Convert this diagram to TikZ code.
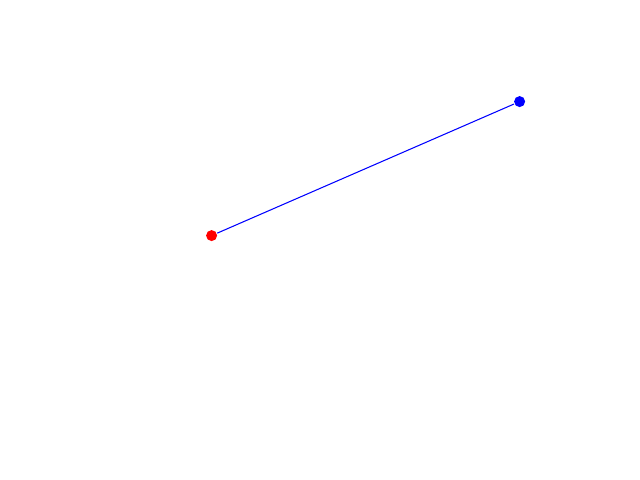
\documentclass[tikz,border=0pt]{standalone}
\begin{document}
\begin{tikzpicture}[x=0.01cm,y=-0.01cm,
  dot/.style={circle,inner sep=0pt,minimum size=0.11cm,draw=none},
  link/.style={blue,line width=0.3pt}]
\useasboundingbox (0,0) rectangle (640,480);
\node[dot,fill=red] (r) at (211.6,235.6) {};
\node[dot,fill=blue] (b) at (519.6,101.6) {};
\draw[link] (r) -- (b);
\end{tikzpicture}
\end{document}
